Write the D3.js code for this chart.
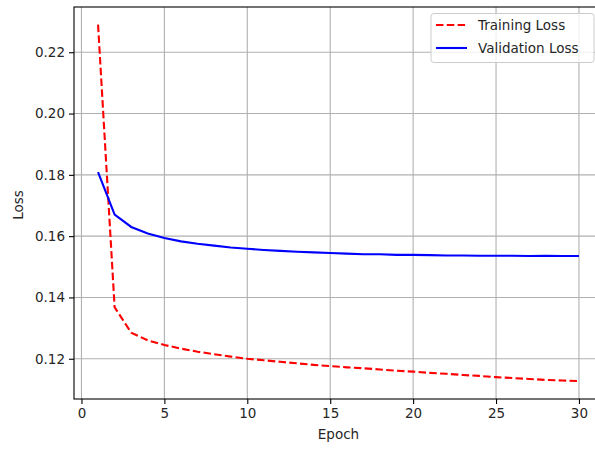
<!DOCTYPE html>
<html>
<head>
<meta charset="utf-8">
<script src="https://d3js.org/d3.v7.min.js"></script>
<style>
  body { margin: 0; background: #fff; }
  text { font-family: "DejaVu Sans", sans-serif; fill: #262626; }
</style>
</head>
<body>
<div id="chart"></div>
<script>
// Loss values
var epochs = d3.range(1, 31);
var trainingLoss = [0.2290, 0.1368, 0.1285, 0.1260, 0.1245, 0.1233, 0.1223, 0.1215, 0.1207, 0.1200,
    0.1195, 0.1190, 0.1185, 0.1180, 0.1176, 0.1172, 0.1169, 0.1165, 0.1161, 0.1158,
    0.1154, 0.1151, 0.1147, 0.1144, 0.1140, 0.1137, 0.1134, 0.1131, 0.1129, 0.1127];
var validationLoss = [0.1809, 0.1670, 0.1630, 0.1609, 0.1594, 0.1583, 0.1575, 0.1569, 0.1563, 0.1559,
    0.1555, 0.1552, 0.1549, 0.1547, 0.1545, 0.1543, 0.1541, 0.1541, 0.1539, 0.1539,
    0.1538, 0.1537, 0.1537, 0.1536, 0.1536, 0.1536, 0.1535, 0.1536, 0.1535, 0.1535];
var xTicks = [0, 5, 10, 15, 20, 25, 30];
var yTicks = [0.12, 0.14, 0.16, 0.18, 0.20, 0.22];
var seriesNames = ["Training Loss", "Validation Loss"];

var svgWidth = 595;
var svgHeight = 450;

var margin = { top: 7, right: -8, bottom: 51, left: 74 };
var chartWidth = svgWidth - margin.left - margin.right;
var chartHeight = svgHeight - margin.top - margin.bottom;

var svg = d3.select("#chart")
    .append("svg")
    .attr("width", svgWidth)
    .attr("height", svgHeight);

var chartGroup = svg.append("g")
    .attr("transform", `translate(${margin.left},${margin.top})`);

var xScale = d3.scaleLinear()
    .domain([-0.45, 31.45])
    .range([0, chartWidth]);

var yScale = d3.scaleLinear()
    .domain([0.10687, 0.23476])
    .range([chartHeight, 0]);

// grid
chartGroup.append("g")
    .selectAll("line")
    .data(xTicks)
    .enter()
    .append("line")
    .attr("x1", d => xScale(d)).attr("x2", d => xScale(d))
    .attr("y1", 0).attr("y2", chartHeight)
    .attr("stroke", "#b0b0b0").attr("stroke-width", 1.1);

chartGroup.append("g")
    .selectAll("line")
    .data(yTicks)
    .enter()
    .append("line")
    .attr("x1", 0).attr("x2", chartWidth)
    .attr("y1", d => yScale(d)).attr("y2", d => yScale(d))
    .attr("stroke", "#b0b0b0").attr("stroke-width", 1.1);

// axes
var bottomAxis = d3.axisBottom(xScale)
    .tickValues(xTicks)
    .tickSize(5)
    .tickPadding(4)
    .tickFormat(d3.format("d"));

var leftAxis = d3.axisLeft(yScale)
    .tickValues(yTicks)
    .tickSize(5)
    .tickPadding(4)
    .tickFormat(d3.format(".2f"));

var xAxis = chartGroup.append("g")
    .attr("transform", `translate(0, ${chartHeight})`)
    .call(bottomAxis);

var yAxis = chartGroup.append("g")
    .call(leftAxis);

[xAxis, yAxis].forEach(function (ax) {
    ax.select(".domain").remove();
    ax.selectAll(".tick line").attr("stroke", "#000").attr("stroke-width", 1.1);
    ax.selectAll(".tick text")
        .attr("font-family", "DejaVu Sans")
        .attr("font-size", "13.5px")
        .attr("fill", "#262626");
});

// lines
var lossLine = d3.line()
    .x((d, i) => xScale(epochs[i]))
    .y(d => yScale(d));

chartGroup.append("path")
    .datum(trainingLoss)
    .attr("d", lossLine)
    .attr("fill", "none")
    .attr("stroke", "#ff0000")
    .attr("stroke-width", 2.1)
    .attr("stroke-dasharray", "7.5,3.3");

chartGroup.append("path")
    .datum(validationLoss)
    .attr("d", lossLine)
    .attr("fill", "none")
    .attr("stroke", "#0000ff")
    .attr("stroke-width", 2.1);

// spines
chartGroup.append("rect")
    .attr("x", 0).attr("y", 0)
    .attr("width", chartWidth).attr("height", chartHeight)
    .attr("fill", "none")
    .attr("stroke", "#000")
    .attr("stroke-width", 1.1);

// axis labels
chartGroup.append("text")
    .attr("x", xScale(15.5))
    .attr("y", chartHeight + 40)
    .attr("text-anchor", "middle")
    .attr("font-size", "13.5px")
    .text("Epoch");

chartGroup.append("text")
    .attr("transform", "rotate(-90)")
    .attr("x", -(205 - margin.top))
    .attr("y", 22.5 - margin.left)
    .attr("text-anchor", "middle")
    .attr("font-size", "13.5px")
    .text("Loss");

// legend
var legend = svg.append("g");

legend.append("rect")
    .attr("x", 431).attr("y", 13.5)
    .attr("width", 163).attr("height", 49)
    .attr("rx", 3)
    .attr("fill", "#fff").attr("fill-opacity", 0.8)
    .attr("stroke", "#cccccc").attr("stroke-width", 1);

var legendItems = legend.selectAll("g.item")
    .data(seriesNames)
    .enter()
    .append("g")
    .attr("class", "item")
    .attr("transform", (d, i) => `translate(0, ${25 + i * 23})`);

legendItems.append("line")
    .attr("x1", 436).attr("x2", 467)
    .attr("y1", 0).attr("y2", 0)
    .attr("stroke", (d, i) => i === 0 ? "#ff0000" : "#0000ff")
    .attr("stroke-width", 2.1)
    .attr("stroke-dasharray", (d, i) => i === 0 ? "7.5,3.3" : null);

legendItems.append("text")
    .attr("x", 478)
    .attr("y", 5)
    .attr("font-size", "13.5px")
    .text(d => d);
</script>
</body>
</html>
